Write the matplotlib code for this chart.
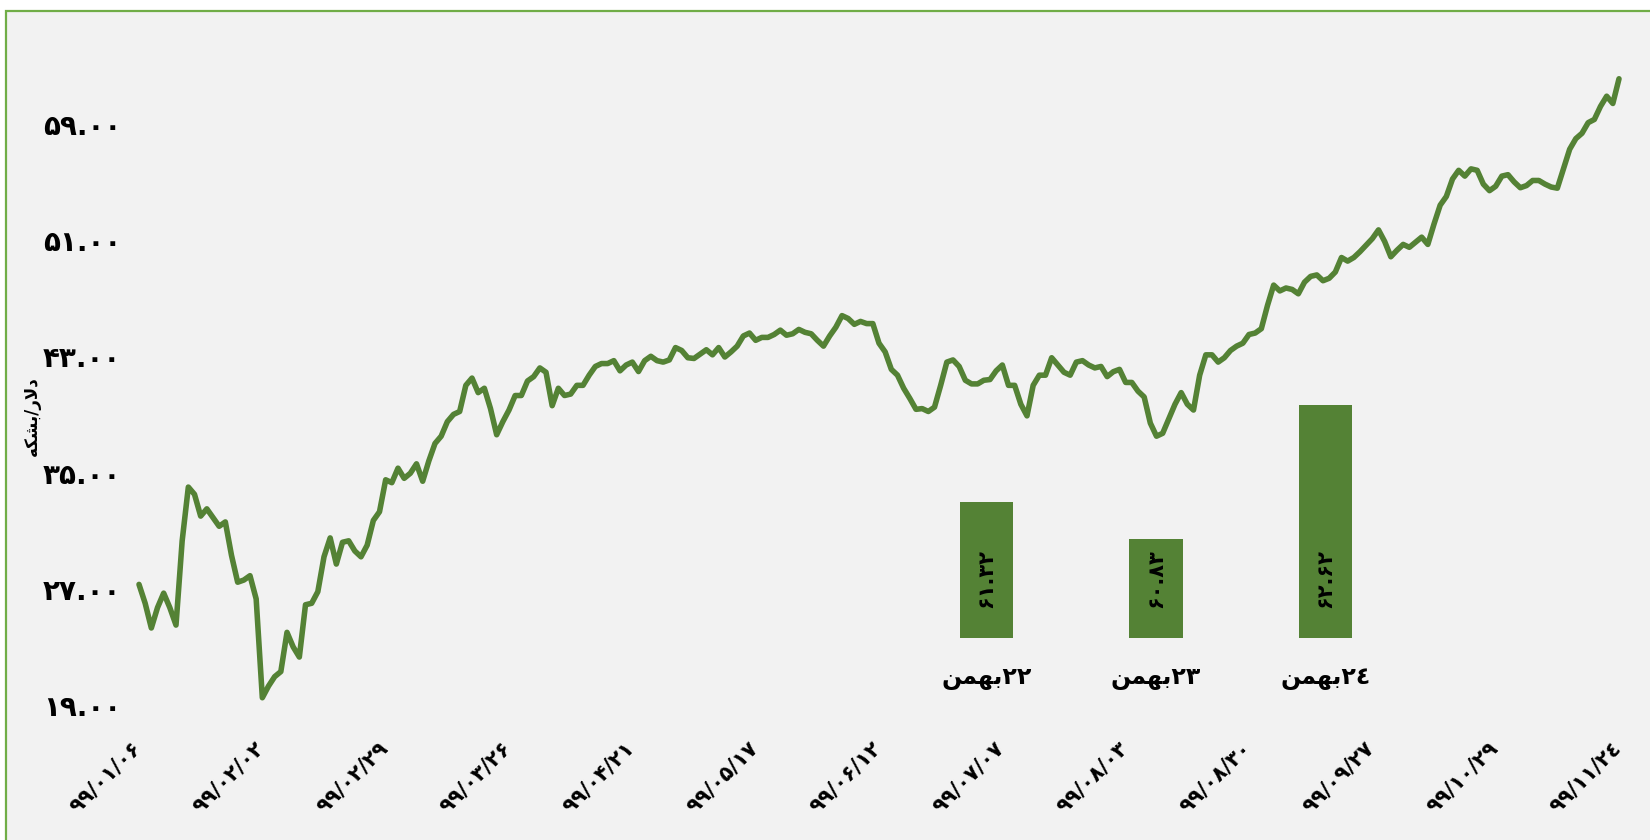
import numpy as np
import matplotlib.pyplot as plt
from matplotlib.patches import Rectangle
from matplotlib.transforms import ScaledTranslation

plt.rcParams["font.family"] = ["DejaVu Sans"]

# daily price (dollar / barrel), trading days from 99/01/06 to 99/11/24
price = [27.3, 26.0, 24.3, 25.7, 26.7, 25.7, 24.5, 30.3, 34.0, 33.5,
         32.0, 32.5, 31.9, 31.3, 31.6, 29.3, 27.45, 27.6, 27.9, 26.3,
         19.5, 20.3, 20.95, 21.3, 24.0, 23.0, 22.3, 25.9, 26.0, 26.8,
         29.2, 30.5, 28.7, 30.2, 30.3, 29.6, 29.2, 30.0, 31.7, 32.3,
         34.5, 34.3, 35.3, 34.6, 34.95, 35.6, 34.4, 35.8, 37.0, 37.5,
         38.5, 39.0, 39.2, 41.0, 41.5, 40.5, 40.8, 39.4, 37.6, 38.5,
         39.3, 40.3, 40.3, 41.3, 41.6, 42.2, 41.9, 39.6, 40.8, 40.3,
         40.4, 41.0, 41.0, 41.7, 42.3, 42.5, 42.5, 42.7, 42.0, 42.4,
         42.6, 41.95, 42.7, 43.0, 42.7, 42.6, 42.75, 43.6, 43.4, 42.9,
         42.85, 43.15, 43.45, 43.1, 43.6, 42.95, 43.3, 43.7, 44.4, 44.6,
         44.1, 44.3, 44.3, 44.5, 44.8, 44.45, 44.55, 44.85, 44.65, 44.55,
         44.1, 43.7, 44.4, 45.0, 45.8, 45.6, 45.2, 45.4, 45.25, 45.25,
         43.9, 43.3, 42.1, 41.7, 40.8, 40.1, 39.35, 39.4, 39.2, 39.5,
         41.0, 42.6, 42.75, 42.3, 41.35, 41.1, 41.1, 41.35, 41.4, 42.0,
         42.4, 41.0, 41.0, 39.7, 38.9, 41.0, 41.7, 41.7, 42.9, 42.4,
         41.9, 41.7, 42.6, 42.7, 42.4, 42.2, 42.3, 41.6, 41.94, 42.1,
         41.2, 41.2, 40.6, 40.2, 38.4, 37.5, 37.7, 38.7, 39.7, 40.5,
         39.7, 39.3, 41.7, 43.1, 43.1, 42.6, 42.9, 43.4, 43.7, 43.9,
         44.5, 44.6, 44.9, 46.5, 47.9, 47.5, 47.7, 47.6, 47.3, 48.1,
         48.5, 48.6, 48.2, 48.37, 48.8, 49.8, 49.55, 49.8, 50.2, 50.65,
         51.1, 51.7, 50.9, 49.85, 50.3, 50.7, 50.5, 50.85, 51.2, 50.7,
         52.1, 53.4, 54.0, 55.2, 55.8, 55.4, 55.9, 55.8, 54.85, 54.4,
         54.7, 55.4, 55.5, 55.0, 54.6, 54.75, 55.1, 55.1, 54.85, 54.65,
         54.57, 55.9, 57.25, 57.98, 58.35, 59.08, 59.3, 60.2, 60.9, 60.4, 62.1]

tick_dates = ["۹۹/۰۱/۰۶", "۹۹/۰۲/۰۲", "۹۹/۰۲/۲۹", "۹۹/۰۳/۲۶", "۹۹/۰۴/۲۱",
              "۹۹/۰۵/۱۷", "۹۹/۰۶/۱۲", "۹۹/۰۷/۰۷", "۹۹/۰۸/۰۳", "۹۹/۰۸/۳۰",
              "۹۹/۰۹/۲۷", "۹۹/۱۰/۲۹", "۹۹/۱۱/۲٤"]
y_ticks = [19, 27, 35, 43, 51, 59]

bar_days = ["۲۲", "۲۳", "۲٤"]
bar_vals = [61.32, 60.83, 62.62]

fa = str.maketrans("0123456789", "۰۱۲۳۴۵۶۷۸۹")

# matplotlib has no arabic shaping -> use presentation forms, then reverse (RTL)
FORMS = {"ب": "\uFE8F\uFE90\uFE91\uFE92", "ه": "\uFEE9\uFEEA\uFEEB\uFEEC",
         "م": "\uFEE1\uFEE2\uFEE3\uFEE4", "ن": "\uFEE5\uFEE6\uFEE7\uFEE8",
         "ل": "\uFEDD\uFEDE\uFEDF\uFEE0", "ش": "\uFEB5\uFEB6\uFEB7\uFEB8",
         "ک": "\uFB8E\uFB8F\uFB90\uFB91", "د": "\uFEA9\uFEAA\uFEA9\uFEAA",
         "ر": "\uFEAD\uFEAE\uFEAD\uFEAE", "ا": "\uFE8D\uFE8E\uFE8D\uFE8E"}
NO_LEFT = set("ادر")


def rtl(s):
    out = []
    i = 0
    while i < len(s):
        c = s[i]
        prev = i > 0 and s[i-1] in FORMS and s[i-1] not in NO_LEFT
        if c == "ل" and i + 1 < len(s) and s[i+1] == "ا":
            out.append("\uFEFC" if prev else "\uFEFB")
            i += 2
            continue
        if c not in FORMS:
            out.append(c)
            i += 1
            continue
        nxt = i + 1 < len(s) and s[i+1] in FORMS and c not in NO_LEFT
        iso, fin, ini, med = FORMS[c]
        out.append(med if prev and nxt else fin if prev else ini if nxt else iso)
        i += 1
    return "".join(out[::-1])


green = "#548235"
fig = plt.figure(figsize=(16.5, 8.4), dpi=100, facecolor="white")
fig.patches.append(Rectangle((6/1650, -0.1), 1.1, 0.1 + (840-11)/840,
                             transform=fig.transFigure, facecolor="#F2F2F2",
                             edgecolor="#70AD47", linewidth=1.6, zorder=-5))

ax = fig.add_axes([139/1650, 135/840, 1480/1650, 639.3/840])
ax.set_facecolor("none")
days = np.arange(len(price))
ax.plot(days, price, color=green, lw=4.0, solid_joinstyle="round",
        solid_capstyle="round", clip_on=False)
ax.set_xlim(0, len(price) - 1)
ax.set_ylim(19, 63)
ax.set_yticks(y_ticks, [f"{v:.2f}".translate(fa) for v in y_ticks],
              fontsize=20, fontweight="bold")
ax.set_xticks(days[::20], tick_dates, rotation=45, ha="right", va="top",
              rotation_mode="anchor", fontsize=15, fontweight="bold")
ax.tick_params(axis="y", length=0, pad=13)
ax.tick_params(axis="x", length=0, pad=24)
shift = ScaledTranslation(-6/72, 0, fig.dpi_scale_trans)
for lab in ax.get_xticklabels():
    lab.set_transform(lab.get_transform() + shift)
for s in ax.spines.values():
    s.set_visible(False)

fig.text(32/1650, (840-416)/840, rtl("دلار/بشکه"), rotation=90,
         ha="center", va="center", fontsize=12, fontweight="bold")

# inset bars
axb = fig.add_axes([901.75/1650, 202/840, 508.5/1650, 261/840])
axb.set_facecolor("none")
xb = np.arange(len(bar_vals))
axb.bar(xb, bar_vals, width=0.313, color=green)
axb.set_xlim(-0.5, 2.5)
axb.set_ylim(59.5, 63)
axb.axis("off")
for i, v in enumerate(bar_vals):
    axb.text(i, 59.9, f"{v:.2f}".translate(fa), rotation=90, ha="center",
             va="bottom", fontsize=15, fontweight="bold")
    axb.text(i, 58.96, rtl("بهمن") + bar_days[i], ha="center", va="center",
             fontsize=17, fontweight="bold", clip_on=False)

fig.savefig("out.png", dpi=100, facecolor=fig.get_facecolor())
